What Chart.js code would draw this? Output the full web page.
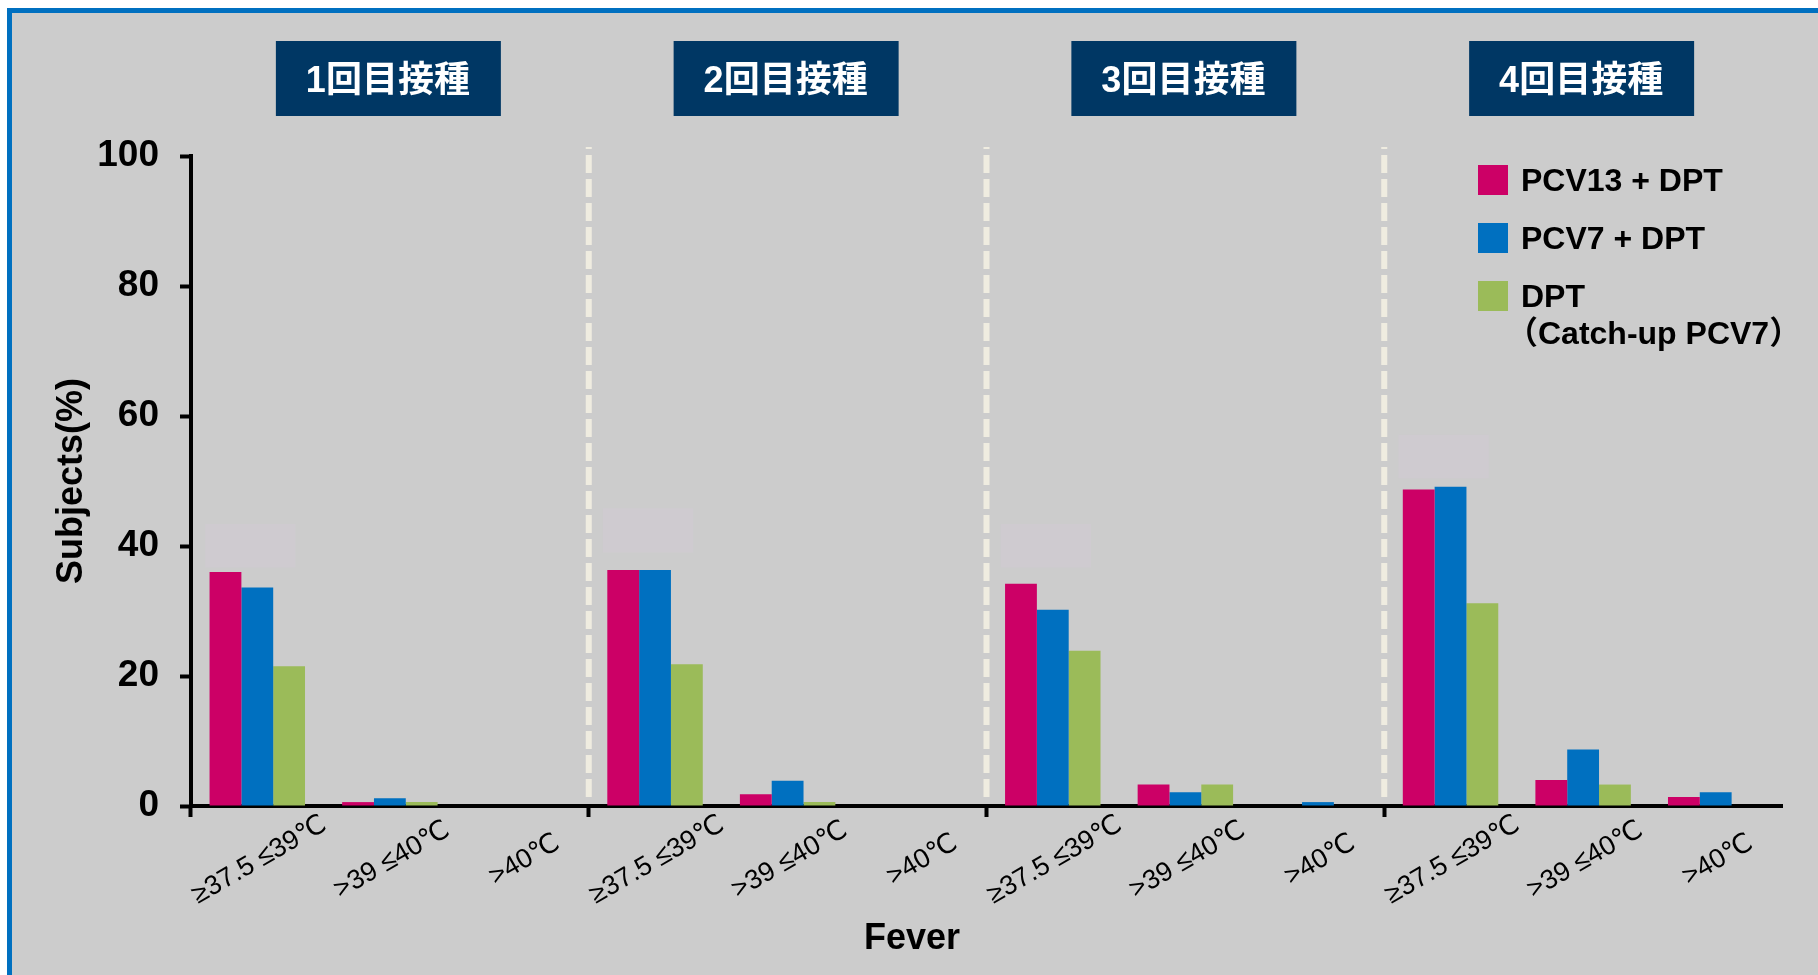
<!DOCTYPE html>
<html>
<head>
<meta charset="utf-8">
<script src="https://cdn.jsdelivr.net/npm/chart.js@4.4.0/dist/chart.umd.min.js"></script>
<style>
    html, body { margin: 0; padding: 0; background: #fff; width: 1818px; height: 975px; overflow: hidden; }
    #frame { position: absolute; left: 7px; top: 8px; right: 0; bottom: 0; background: #cccccc;
             border-left: 5px solid #0070c0; border-top: 5px solid #0070c0; }
    #chart { position: absolute; left: 0; top: 0; }
    #legend { position: absolute; left: 1478px; top: 0; color: #000;
              font: bold 32px "Liberation Sans", "Noto Sans CJK JP", sans-serif; }
    .row { position: absolute; left: 0; display: flex; align-items: flex-start; white-space: pre; line-height: 37px; }
    .box { width: 30px; height: 30px; margin-top: 3px; margin-right: 13px; flex: none; }
    .paren { margin-left: -15px; }
</style>
</head>
<body>
<div id="frame"></div>
<canvas id="chart" width="1818" height="975"></canvas>
<div id="legend"></div>
<script>
const doseTitles = ['1回目接種', '2回目接種', '3回目接種', '4回目接種'];
const feverBands = ['≥37.5 ≤39℃', '>39 ≤40℃', '>40℃'];
const categories = [].concat(feverBands, feverBands, feverBands, feverBands);
const seriesNames = ['PCV13 + DPT', 'PCV7 + DPT', 'DPT\n（Catch-up PCV7）'];

const pcv13Dpt   = [36.0, 0.6, 0, 36.3, 1.8, 0, 34.2, 3.3, 0,   48.7, 4.0, 1.4];
const pcv7Dpt    = [33.6, 1.2, 0, 36.3, 3.9, 0, 30.2, 2.1, 0.6, 49.1, 8.7, 2.1];
const dptCatchUp = [21.5, 0.6, 0, 21.8, 0.6, 0, 23.9, 3.3, 0,   31.2, 3.3, 0];

// pale boxes that hide the labels above the first group of each dose
const maskedRanges = [[36.7, 43.4], null, null, [39.0, 45.8], null, null,
                      [36.7, 43.4], null, null, [50.4, 57.1], null, null];

const yTicks = [0, 20, 40, 60, 80, 100];
const yTitle = 'Subjects(%)';
const xTitle = 'Fever';

const FONT = '"Liberation Sans", "DejaVu Sans", "Noto Sans CJK JP", sans-serif';
Chart.defaults.font.family = FONT;
Chart.defaults.color = '#000';

// dividers, dose headers, masks, rotated fever labels and the axis title
const decorations = {
    id: 'decorations',
    beforeDatasetsDraw(chart) {
        const { ctx, scales: { x, y } } = chart;
        const catW = x.getPixelForValue(1) - x.getPixelForValue(0);
        ctx.save();
        ctx.fillStyle = '#cfcbd0';
        maskedRanges.forEach((r, i) => {
            if (!r) return;
            const cx = x.getPixelForValue(i) - 7;
            const y1 = y.getPixelForValue(r[1]), y0 = y.getPixelForValue(r[0]);
            ctx.fillRect(cx - catW * 0.34, y1, catW * 0.68, y0 - y1);
        });
        ctx.restore();
    },
    afterDraw(chart) {
        const { ctx, scales: { x, y } } = chart;
        const top = y.getPixelForValue(100), base = y.getPixelForValue(0);
        ctx.save();

        ctx.strokeStyle = '#efece0';
        ctx.lineWidth = 6;
        ctx.setLineDash([18, 6]);
        ctx.lineDashOffset = 16;
        for (let p = 1; p < doseTitles.length; p++) {
            const xp = (x.getPixelForValue(p * 3 - 1) + x.getPixelForValue(p * 3)) / 2;
            ctx.beginPath();
            ctx.moveTo(xp, top - 9);
            ctx.lineTo(xp, base - 9);
            ctx.stroke();
        }
        ctx.setLineDash([]);

        ctx.textAlign = 'center';
        ctx.textBaseline = 'middle';
        doseTitles.forEach((t, p) => {
            const cx = x.getPixelForValue(p * 3 + 1) - 2;
            ctx.fillStyle = '#003764';
            ctx.fillRect(cx - 112, 41, 225, 75);
            ctx.fillStyle = '#fff';
            ctx.font = 'bold 36px ' + FONT;
            ctx.fillText(t, cx, 82);
        });

        ctx.fillStyle = '#000';
        ctx.font = '27px ' + FONT;
        categories.forEach((lab, i) => {
            ctx.save();
            ctx.translate(x.getPixelForValue(i) + 2, base + 54);
            ctx.rotate(-30 * Math.PI / 180);
            ctx.fillText(lab, 0, 0);
            ctx.restore();
        });

        ctx.font = 'bold 36px ' + FONT;
        ctx.fillText(xTitle, chart.width / 2 + 3, 939);
        ctx.restore();
    }
};

const chart = new Chart(document.getElementById('chart'), {
    type: 'bar',
    data: {
        labels: categories,
        datasets: [
            { label: seriesNames[0], data: pcv13Dpt, backgroundColor: '#cc0066' },
            { label: seriesNames[1], data: pcv7Dpt, backgroundColor: '#0070c0' },
            { label: seriesNames[2], data: dptCatchUp, backgroundColor: '#9bbb59' }
        ]
    },
    options: {
        responsive: false,
        animation: false,
        datasets: { bar: { categoryPercentage: 0.72, barPercentage: 1 } },
        layout: { padding: { left: 0, right: 36, top: 156, bottom: 0 } },
        plugins: { legend: { display: false }, tooltip: { enabled: false } },
        scales: {
            x: {
                offset: true,
                grid: {
                    offset: true, drawOnChartArea: false, drawTicks: true, tickLength: 11, tickWidth: 4,
                    tickColor: c => c.index % 3 === 0 ? '#000' : 'rgba(0,0,0,0)'
                },
                border: { display: true, color: '#000', width: 4 },
                ticks: { display: false },
                afterFit: s => { s.height = 169; }
            },
            y: {
                min: 0, max: 100,
                afterBuildTicks: s => { s.ticks = yTicks.map(v => ({ value: v })); },
                grid: { drawOnChartArea: false, drawTicks: true, tickLength: 11, tickWidth: 4, tickColor: '#000' },
                border: { display: true, color: '#000', width: 4 },
                ticks: { color: '#000', padding: 21, font: { size: 37, weight: 'bold' } },
                title: { display: true, text: yTitle, color: '#000', font: { size: 36, weight: 'bold' },
                         padding: { top: 50, bottom: 0 } },
                afterFit: s => { s.width = 191; }
            }
        }
    },
    plugins: [decorations]
});

// legend built from the datasets
const legendEl = document.getElementById('legend');
chart.data.datasets.forEach((d, i) => {
    const row = document.createElement('div');
    row.className = 'row';
    row.style.top = (162 + i * 58) + 'px';
    const box = document.createElement('span');
    box.className = 'box';
    box.style.background = d.backgroundColor;
    const txt = document.createElement('div');
    d.label.split('\n').forEach(line => {
        const ln = document.createElement('div');
        ln.textContent = line;
        if (line.startsWith('（')) ln.className = 'paren';
        txt.append(ln);
    });
    row.append(box, txt);
    legendEl.append(row);
});
</script>
</body>
</html>
